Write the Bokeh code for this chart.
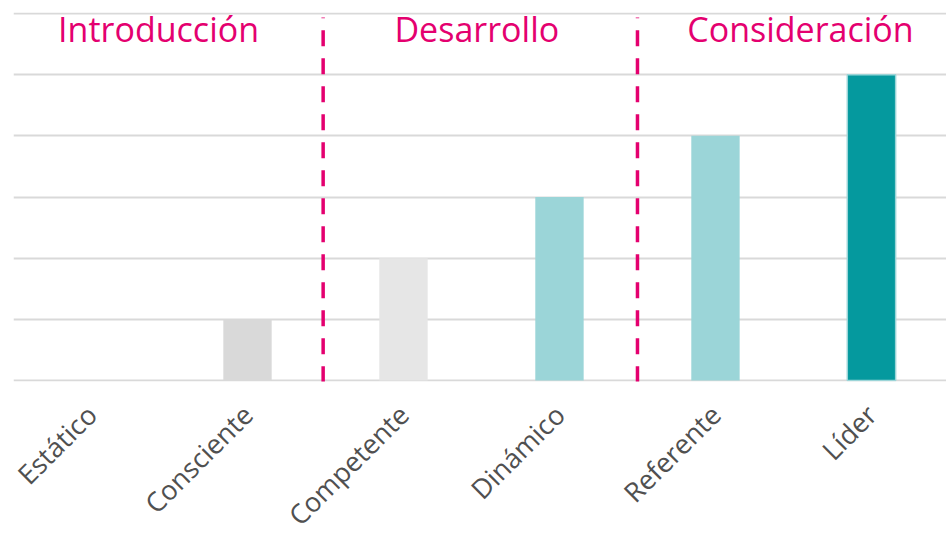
from math import pi
from bokeh.plotting import figure
from bokeh.models import ColumnDataSource, Range1d, FixedTicker
from bokeh.core.properties import value
from bokeh.embed import file_html
from bokeh.resources import INLINE

# ---- data ----
categories = ["Estático", "Consciente", "Competente", "Dinámico", "Referente", "Líder"]
levels = [0, 1, 2, 3, 4, 5]
bar_colors = ["#d9d9d9", "#d9d9d9", "#e6e6e6", "#9bd5d8", "#9bd5d8", "#05999e"]
bar_outline = [None, None, None, None, None, "#9bd5d8"]
y_ticks = [0, 1, 2, 3, 4, 5, 6]
phases = ["Introducción", "Desarrollo", "Consideración"]
phase_x = [0.43, 2.47, 4.545]
divider_x = [1.485, 3.5]

PINK = "#e4006f"

xs = list(range(len(categories)))
src = ColumnDataSource(dict(x=xs, top=levels, color=bar_colors, line=bar_outline))

p = figure(frame_width=933, frame_height=369, output_backend="svg", toolbar_location=None,
           x_range=Range1d(-0.5, 5.481), y_range=Range1d(-0.016, 6.016),
           min_border_left=13, min_border_right=0, min_border_top=12, min_border_bottom=154)
p.outline_line_color = None
p.background_fill_color = "white"
p.border_fill_color = "white"

p.vbar(x="x", top="top", bottom=0, width=0.31, fill_color="color", line_color="line",
       line_width=1.5, source=src)

# grid
p.xgrid.visible = False
p.ygrid.ticker = FixedTicker(ticks=y_ticks)
p.ygrid.grid_line_color = "#d9d9d9"
p.ygrid.grid_line_width = 2
p.ygrid.level = "underlay"
p.yaxis.visible = False

# x axis
ax = p.xaxis[0]
ax.ticker = FixedTicker(ticks=xs)
ax.major_label_overrides = {i: c for i, c in zip(xs, categories)}
ax.major_label_orientation = pi / 4
ax.axis_line_color = None
ax.major_tick_line_color = None
ax.minor_tick_line_color = None
ax.major_label_text_font = "Open Sans"
ax.major_label_text_font_size = "27px"
ax.major_label_text_color = "#505050"
ax.major_label_standoff = 22

# dividers
p.segment(x0=divider_x, y0=[-0.03] * len(divider_x), x1=divider_x, y1=[5.934] * len(divider_x),
          line_color=PINK, line_width=3.5, line_dash="16 12")

# phase labels
p.text(x=phase_x, y=[5.75] * len(phases), text=phases, text_align="center",
       text_baseline="middle", text_color=PINK, text_font=value("Open Sans"),
       text_font_size="34px")

open("out.html", "w").write(file_html(p, INLINE))
